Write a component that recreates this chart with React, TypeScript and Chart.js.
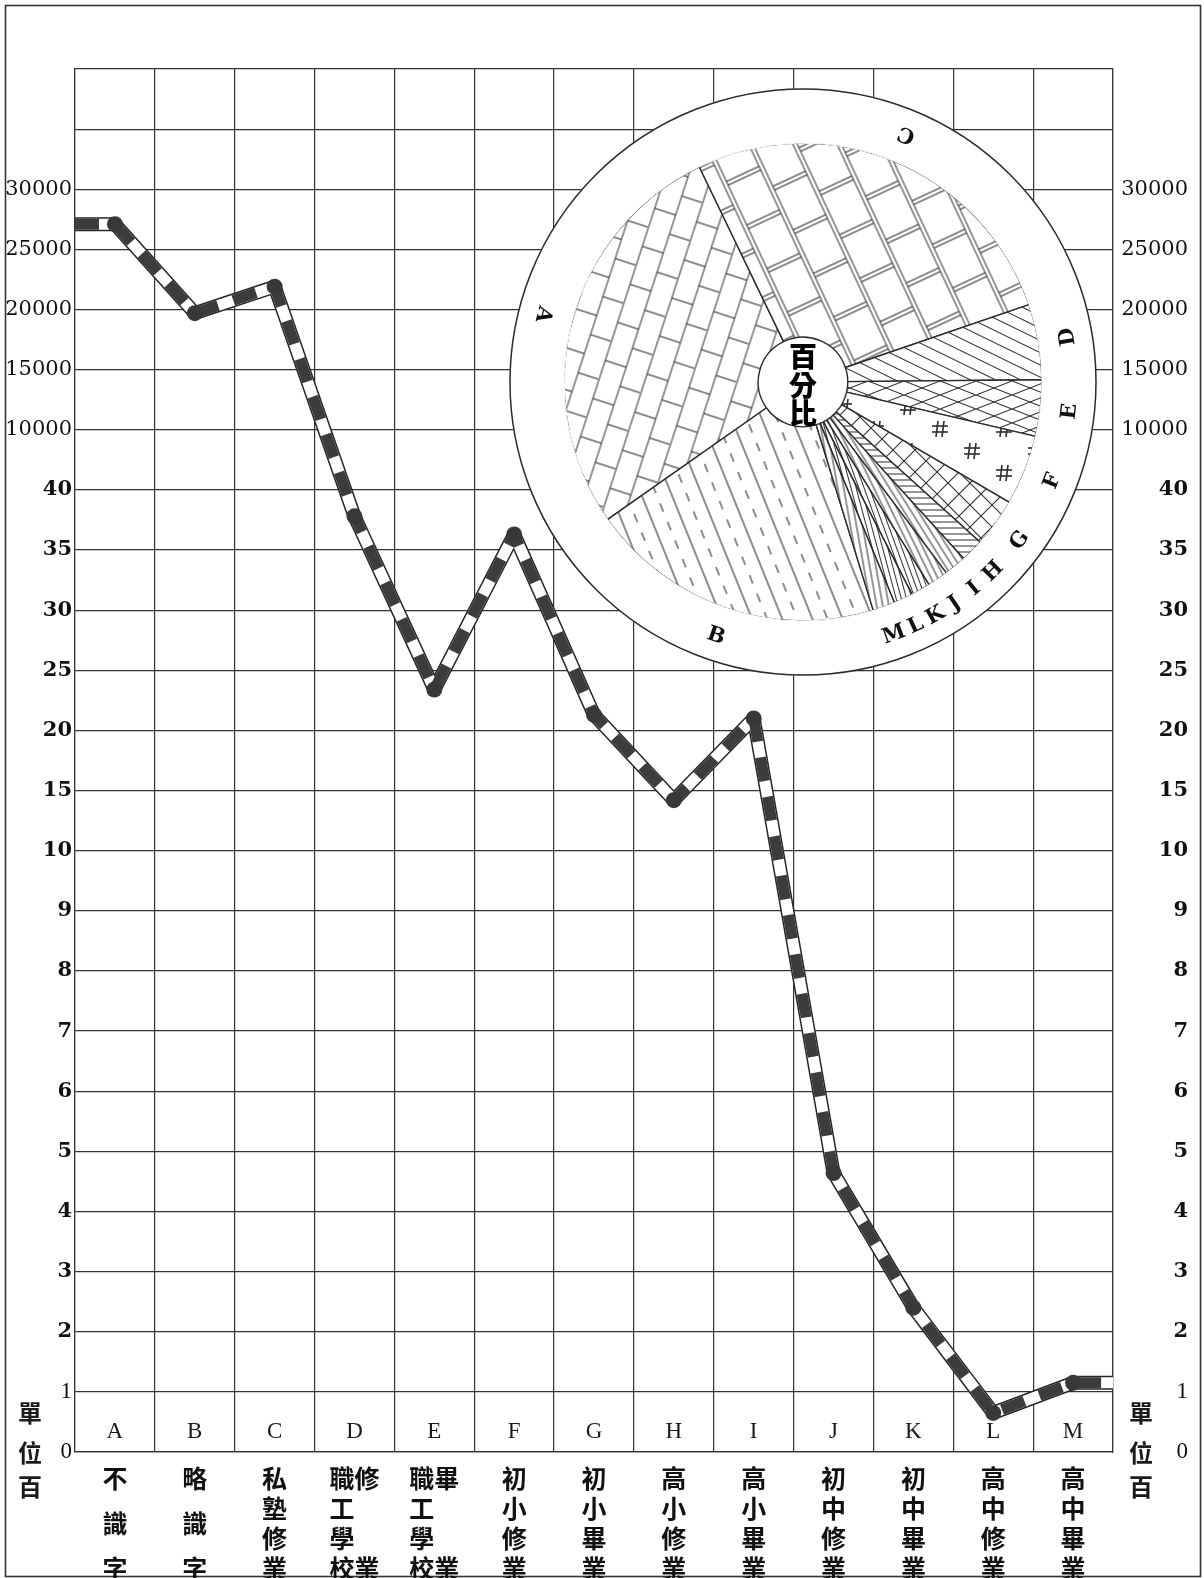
import React, { useEffect, useRef } from 'react';
import { Chart, registerables } from 'chart.js';

Chart.register(...registerables);

// ---------- data ----------
const categories = ['A', 'B', 'C', 'D', 'E', 'F', 'G', 'H', 'I', 'J', 'K', 'L', 'M'];
const categoryRows: string[][] = [
  ['不', '識', '字'],
  ['略', '識', '字'],
  ['私', '塾', '修', '業'],
  ['職修', '工　', '學　', '校業'],
  ['職畢', '工　', '學　', '校業'],
  ['初', '小', '修', '業'],
  ['初', '小', '畢', '業'],
  ['高', '小', '修', '業'],
  ['高', '小', '畢', '業'],
  ['初', '中', '修', '業'],
  ['初', '中', '畢', '業'],
  ['高', '中', '修', '業'],
  ['高', '中', '畢', '業'],
];
// values in units of hundreds (單位百)
const values = [27100, 19700, 21900, 37.8, 23.4, 36.3, 21.3, 14.2, 21.0, 4.64, 2.4, 0.65, 1.15];
// piecewise axis: one grid row per label
const yTickLabels = [
  '0', '1', '2', '3', '4', '5', '6', '7', '8', '9', '10',
  '15', '20', '25', '30', '35', '40',
  '10000', '15000', '20000', '25000', '30000', '', '',
];
// inset pie (百分比), listed clockwise in drawing order
const pieOrder = ['B', 'A', 'C', 'D', 'E', 'F', 'G', 'H', 'I', 'J', 'K', 'L', 'M'];
const piePercents = [20.0, 27.6, 26.9, 5.1, 3.8, 4.75, 3.3, 1.55, 1.5, 1.4, 1.3, 1.3, 1.5];
const pieStartDeg = 162.9;
const pieCenterText = ['百', '分', '比'];
const unitText = ['單', '位', '百'];

// ---------- helpers ----------
const numericTicks = yTickLabels.map((s) => (s === '' ? NaN : Number(s)));
function toIndex(v: number): number {
  for (let k = 0; k < numericTicks.length - 1; k++) {
    const a = numericTicks[k];
    const b = numericTicks[k + 1];
    if (isNaN(a) || isNaN(b)) continue;
    if (v >= a && v <= b) return k + (v - a) / (b - a);
  }
  return 0;
}

function spreadRows(rows: string[]): string[] {
  const out = ['', '', '', '', '', '', ''];
  const step = rows.length === 3 ? 3 : 2;
  rows.forEach((r, i) => {
    out[i * step] = r;
  });
  return out;
}

const CJK = "'Noto Sans CJK TC', 'Noto Sans CJK SC', sans-serif";
const SERIF = "'DejaVu Serif', serif";

function line(g: CanvasRenderingContext2D, x1: number, y1: number, x2: number, y2: number) {
  g.beginPath();
  g.moveTo(x1, y1);
  g.lineTo(x2, y2);
  g.stroke();
}

function makePattern(
  ctx: CanvasRenderingContext2D,
  w: number,
  h: number,
  draw: (g: CanvasRenderingContext2D) => void,
  angle: number,
  lw = 1.1
): CanvasPattern {
  const c = document.createElement('canvas');
  c.width = w;
  c.height = h;
  const g = c.getContext('2d') as CanvasRenderingContext2D;
  g.fillStyle = '#ffffff';
  g.fillRect(0, 0, w, h);
  g.strokeStyle = '#2e2e2e';
  g.lineWidth = lw;
  draw(g);
  const p = ctx.createPattern(c, 'repeat') as CanvasPattern;
  if (angle) p.setTransform(new DOMMatrix().rotate(angle));
  return p;
}

function buildPatterns(ctx: CanvasRenderingContext2D): Record<string, CanvasPattern> {
  const hLines = (h: number) => (g: CanvasRenderingContext2D) => line(g, 0, h / 2, 200, h / 2);
  return {
    A: makePattern(ctx, 80, 44, (g) => {
      line(g, 0, 1, 80, 1);
      line(g, 0, 23, 80, 23);
      line(g, 10, 1, 10, 23);
      line(g, 50, 1, 50, 23);
      line(g, 30, 23, 30, 44);
      line(g, 70, 23, 70, 44);
    }, -72),
    C: makePattern(ctx, 96, 80, (g) => {
      line(g, 0, 2, 96, 2);
      line(g, 0, 6, 96, 6);
      line(g, 0, 42, 96, 42);
      line(g, 0, 46, 96, 46);
      [10, 14, 58, 62].forEach((x) => line(g, x, 6, x, 42));
      [34, 38, 82, 86].forEach((x) => {
        line(g, x, 46, x, 80);
        line(g, x, 0, x, 2);
      });
    }, 65),
    B: makePattern(ctx, 20, 28, (g) => {
      line(g, 0, 1, 20, 1);
      line(g, 3, 15, 12, 15);
    }, 68),
    D: makePattern(ctx, 10, 11, hLines(11), 26),
    E: makePattern(ctx, 36, 14, (g) => {
      line(g, 0, 0, 36, 14);
      line(g, 0, 14, 36, 0);
    }, 0),
    F: makePattern(ctx, 64, 44, (g) => {
      const hash = (cx: number, cy: number) => {
        line(g, cx - 8, cy - 3, cx + 8, cy - 3);
        line(g, cx - 8, cy + 3, cx + 8, cy + 3);
        line(g, cx - 2, cy - 8, cx - 4, cy + 8);
        line(g, cx + 4, cy - 8, cx + 2, cy + 8);
      };
      hash(16, 12);
      hash(48, 34);
    }, 0, 1.6),
    G: makePattern(ctx, 22, 22, (g) => {
      line(g, 0, 0, 22, 22);
      line(g, 0, 22, 22, 0);
    }, 0),
    H: makePattern(ctx, 8, 6, hLines(6), 0),
    I: makePattern(ctx, 8, 6, hLines(6), 58),
    J: makePattern(ctx, 8, 6, hLines(6), 64),
    K: makePattern(ctx, 8, 5, hLines(5), 70),
    L: makePattern(ctx, 8, 5, hLines(5), 75),
    M: makePattern(ctx, 8, 6, hLines(6), 80),
  };
}

// ---------- plugins ----------
const mainDecor = {
  id: 'mainDecor',
  beforeDraw(chart: any) {
    const { ctx, width, height } = chart;
    ctx.save();
    ctx.fillStyle = '#ffffff';
    ctx.fillRect(0, 0, width, height);
    ctx.strokeStyle = '#333';
    ctx.lineWidth = 1.6;
    ctx.strokeRect(5.5, 5.5, width - 9, height - 7);
    ctx.restore();
  },
  beforeDatasetsDraw(chart: any) {
    const { ctx, chartArea } = chart;
    const xs = chart.scales.x;
    const ys = chart.scales.y;
    ctx.save();
    ctx.fillStyle = '#1a1a1a';
    ctx.textAlign = 'center';
    ctx.textBaseline = 'middle';
    ctx.font = "23px 'Liberation Serif', serif";
    const letterY = ys.getPixelForValue(0.33);
    categories.forEach((c, i) => {
      ctx.fillText(c, xs.getPixelForValue(i), letterY);
    });
    ctx.font = `bold 24px ${CJK}`;
    const zero = ys.getPixelForValue(0);
    const offs = [-39, 1, 35];
    [chartArea.left - 45, chartArea.right + 28].forEach((x) => {
      unitText.forEach((t, k) => ctx.fillText(t, x, zero + offs[k]));
    });
    ctx.restore();
  },
};

const pieDecor = {
  id: 'pieDecor',
  beforeDatasetsDraw(chart: any) {
    const arc = chart.getDatasetMeta(1).data[0];
    if (!arc) return;
    const { ctx } = chart;
    ctx.save();
    ctx.fillStyle = '#ffffff';
    ctx.beginPath();
    ctx.arc(arc.x, arc.y, arc.innerRadius, 0, Math.PI * 2);
    ctx.fill();
    ctx.restore();
  },
  afterDatasetsDraw(chart: any) {
    const { ctx } = chart;
    const ring = chart.getDatasetMeta(0).data;
    if (!ring.length) return;
    const { x, y, outerRadius } = ring[0];
    ctx.save();
    ctx.strokeStyle = '#2b2b2b';
    ctx.lineWidth = 1.5;
    ctx.beginPath();
    ctx.arc(x, y, outerRadius, 0, Math.PI * 2);
    ctx.stroke();
    // letters on the ring
    ctx.fillStyle = '#111';
    ctx.font = `bold 21px ${SERIF}`;
    ctx.textAlign = 'center';
    ctx.textBaseline = 'middle';
    ring.forEach((a: any, i: number) => {
      const mid = (a.startAngle + a.endAngle) / 2;
      const r = a.innerRadius + 0.55 * (a.outerRadius - a.innerRadius);
      ctx.save();
      ctx.translate(a.x + r * Math.cos(mid), a.y + r * Math.sin(mid));
      ctx.rotate(mid - Math.PI / 2);
      ctx.fillText(pieOrder[i], 0, 0);
      ctx.restore();
    });
    // center text
    const inner = chart.getDatasetMeta(1).data[0];
    ctx.font = `900 28px ${CJK}`;
    ctx.fillStyle = '#000';
    const offs = [-26, 3, 31];
    pieCenterText.forEach((t, k) => ctx.fillText(t, inner.x, inner.y + offs[k]));
    ctx.restore();
  },
};

export default function App() {
  const mainRef = useRef<HTMLCanvasElement>(null);
  const pieRef = useRef<HTMLCanvasElement>(null);

  useEffect(() => {
    const idx = values.map(toIndex);
    const n = categories.length;
    const mkData = () => [
      { x: -0.5, y: idx[0] },
      ...idx.map((y, i) => ({ x: i, y })),
      { x: n - 0.5, y: idx[n - 1] },
    ];
    const lastIdx = n + 1;
    const base = {
      xAxisID: 'x2',
      yAxisID: 'y',
      fill: false,
      tension: 0,
      borderJoinStyle: 'round' as const,
      pointRadius: 0,
      pointHoverRadius: 0,
    };
    const tickFont = (c: any) => {
      const v = c.tick ? c.tick.value : 0;
      if (v >= 17) return { family: SERIF, size: 21, weight: 'normal' as const };
      if (v <= 1) return { family: "'Liberation Serif', serif", size: 23, weight: 'normal' as const };
      return { family: SERIF, size: 21, weight: 'bold' as const };
    };
    const yTicks = {
      stepSize: 1,
      autoSkip: false,
      padding: 3,
      color: '#111',
      font: tickFont,
      callback: (v: any) => yTickLabels[Number(v)] ?? '',
    };

    const main = new Chart(mainRef.current as HTMLCanvasElement, {
      type: 'line',
      data: {
        labels: categories,
        datasets: [
          { ...base, data: mkData(), borderColor: '#262626', borderWidth: 14, order: 3 },
          { ...base, data: mkData(), borderColor: '#ffffff', borderWidth: 11, order: 2 },
          {
            ...base,
            data: mkData(),
            borderColor: '#3c3c3c',
            borderWidth: 11,
            borderDash: [24, 16],
            order: 1,
            pointRadius: (c: any) => (c.dataIndex === 0 || c.dataIndex === lastIdx ? 0 : 8),
            pointBackgroundColor: '#383838',
            pointBorderWidth: 0,
          },
        ] as any,
      },
      options: {
        responsive: false,
        animation: false,
        events: [],
        layout: { padding: { top: 69, left: 0, right: 16, bottom: 0 } },
        plugins: { legend: { display: false }, tooltip: { enabled: false } },
        scales: {
          x: {
            type: 'category',
            offset: true,
            grid: { offset: true, color: '#333', lineWidth: 1.2, drawTicks: false },
            border: { color: '#333', width: 1.2 },
            ticks: {
              autoSkip: false,
              maxRotation: 0,
              padding: 19,
              color: '#111',
              font: { family: CJK, size: 25, weight: 'bold', lineHeight: '15px' },
              callback: (_v: any, i: number) => spreadRows(categoryRows[i]),
            },
            afterFit: (s: any) => {
              s.height = 126;
            },
          },
          x2: { type: 'linear', display: false, min: -0.5, max: n - 0.5 },
          y: {
            type: 'linear',
            position: 'left',
            min: 0,
            max: yTickLabels.length - 1,
            grid: { color: '#333', lineWidth: 1.2, drawTicks: false },
            border: { color: '#333', width: 1.2 },
            ticks: yTicks,
            afterFit: (s: any) => {
              s.width = 75;
            },
          },
          yR: {
            type: 'linear',
            position: 'right',
            min: 0,
            max: yTickLabels.length - 1,
            grid: { drawOnChartArea: false, drawTicks: false },
            border: { color: '#333', width: 1.2 },
            ticks: { ...yTicks, crossAlign: 'far' },
            afterFit: (s: any) => {
              s.width = 75;
            },
          },
        } as any,
      },
      plugins: [mainDecor],
    });

    const pieCanvas = pieRef.current as HTMLCanvasElement;
    const pctx = pieCanvas.getContext('2d') as CanvasRenderingContext2D;
    const pats = buildPatterns(pctx);
    const pie = new Chart(pieCanvas, {
      type: 'doughnut',
      data: {
        labels: pieOrder,
        datasets: [
          { data: piePercents, backgroundColor: '#ffffff', borderColor: '#ffffff', borderWidth: 1, weight: 54 },
          {
            data: piePercents,
            backgroundColor: pieOrder.map((k) => pats[k]),
            borderColor: '#2b2b2b',
            borderWidth: 1.4,
            weight: 194,
          },
        ] as any,
      },
      options: {
        responsive: false,
        animation: false,
        events: [],
        rotation: pieStartDeg,
        cutout: 45,
        radius: 293,
        plugins: { legend: { display: false }, tooltip: { enabled: false } },
      } as any,
      plugins: [pieDecor],
    });

    return () => {
      main.destroy();
      pie.destroy();
    };
  }, []);

  return (
    <div style={{ position: 'absolute', left: 0, top: 0, width: 1204, height: 1578, background: '#fff' }}>
      <canvas ref={mainRef} width={1204} height={1578} style={{ position: 'absolute', left: 0, top: 0 }} />
      <canvas ref={pieRef} width={590} height={590} style={{ position: 'absolute', left: 508, top: 87 }} />
    </div>
  );
}
